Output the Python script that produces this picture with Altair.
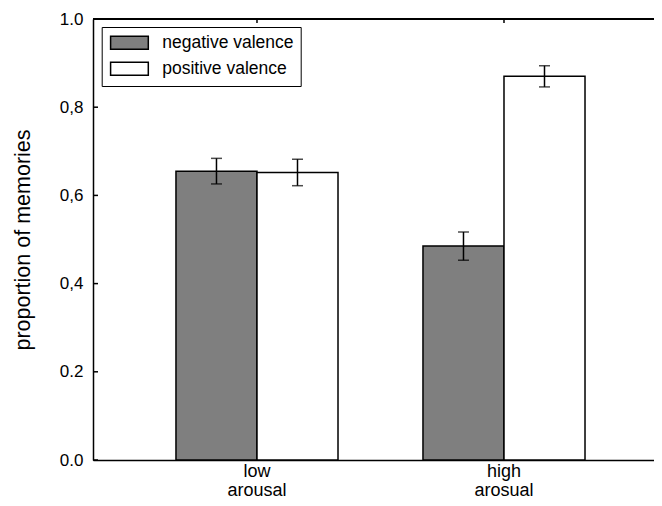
import altair as alt
import pandas as pd

categories = ["low arousal", "high arosual"]
valences = ["negative valence", "positive valence"]
neg_values = [0.655, 0.485]
pos_values = [0.652, 0.870]
neg_err = [0.029, 0.032]
pos_err = [0.030, 0.024]
y_ticks = [0.0, 0.2, 0.4, 0.6, 0.8, 1.0]
y_tick_labels = ["0.0", "0.2", "0,4", "0,6", "0,8", "1.0"]
bar_colors = ["#7f7f7f", "#ffffff"]

rows = []
for i, c in enumerate(categories):
    for val, vals, errs in ((valences[0], neg_values, neg_err), (valences[1], pos_values, pos_err)):
        rows.append(dict(cat=c, val=val, v=vals[i], lo=vals[i] - errs[i], hi=vals[i] + errs[i]))
df = pd.DataFrame(rows)
tick_df = pd.DataFrame({"t": y_ticks})
cat_df = pd.DataFrame({"cat": categories})

W, H = 561, 441

label_list = "[" + ",".join("'%s'" % s for s in y_tick_labels) + "]"

xscale = alt.Scale(domain=categories, paddingInner=0.344, paddingOuter=0.3076, align=0.546)
yscale = alt.Scale(domain=[0, 1], nice=False, zero=True)

xaxis = alt.Axis(labelExpr="split(datum.value, ' ')", labelAngle=0, ticks=False,
                 domainColor="black", domainWidth=1.5, labelFontSize=18, labelColor="black",
                 labelPadding=2, labelLineHeight=19, title=None, grid=False, labelBaseline="top")
yaxis = alt.Axis(values=y_ticks, labelExpr=label_list + "[round(datum.value*5)]", ticks=False,
                 domainColor="black", domainWidth=1.5, labelFontSize=17, labelColor="black",
                 labelPadding=10, title="proportion of memories", titleFontSize=21.5,
                 titleFontWeight="normal", titleColor="black", titlePadding=25, grid=False)

X = alt.X("cat:N", scale=xscale, axis=xaxis, title=None)
XO = alt.XOffset("val:N", scale=alt.Scale(domain=valences, paddingInner=0, paddingOuter=0))
YT = "proportion of memories"

legend = alt.Legend(orient="none", legendX=8.7, legendY=8, title=None, strokeColor="black",
                    fillColor="white", padding=7, symbolType="M-2.9,-1L2.9,-1L2.9,1L-2.9,1Z",
                    symbolSize=169, symbolStrokeColor="black", symbolStrokeWidth=1.5,
                    symbolOffset=12, labelOffset=24, labelFontSize=17.5, labelColor="black",
                    rowPadding=6, cornerRadius=0, symbolOpacity=1)

base = alt.Chart(df)
bars = base.mark_bar(stroke="black", strokeWidth=1.5).encode(
    x=X, xOffset=XO,
    y=alt.Y("v:Q", scale=yscale, axis=yaxis, title=YT),
    fill=alt.Fill("val:N", scale=alt.Scale(domain=valences, range=bar_colors), legend=legend),
)
err = base.mark_rule(color="black", strokeWidth=1.5).encode(
    x=X, xOffset=XO,
    y=alt.Y("lo:Q", scale=yscale, axis=yaxis, title=YT), y2="hi:Q")
cap_lo = base.mark_tick(color="black", size=11, thickness=1.5).encode(
    x=X, xOffset=XO, y=alt.Y("lo:Q", scale=yscale, axis=yaxis, title=YT))
cap_hi = base.mark_tick(color="black", size=11, thickness=1.5).encode(
    x=X, xOffset=XO, y=alt.Y("hi:Q", scale=yscale, axis=yaxis, title=YT))

top_line = alt.Chart(tick_df).mark_rule(color="black", strokeWidth=1.5).encode(
    y=alt.value(0), x=alt.value(0), x2=alt.value(W))
y_inner_ticks = alt.Chart(tick_df).mark_rule(color="black", strokeWidth=1.5).encode(
    y=alt.Y("t:Q", scale=yscale, axis=yaxis, title=YT),
    x=alt.value(0), x2=alt.value(5))
top_ticks = alt.Chart(cat_df).mark_rule(color="black", strokeWidth=1.5).encode(
    x=X, y=alt.value(0), y2=alt.value(4))

chart = alt.layer(bars, err, cap_lo, cap_hi, top_line, y_inner_ticks, top_ticks).properties(
    width=W, height=H,
    padding={"left": 85, "top": 11, "right": 0, "bottom": 38},
    autosize=alt.AutoSizeParams(type="none"),
).configure_view(stroke=None).configure(font="Liberation Sans", background="white")

chart.save("out.html", embed_options={"renderer": "svg", "actions": False})
